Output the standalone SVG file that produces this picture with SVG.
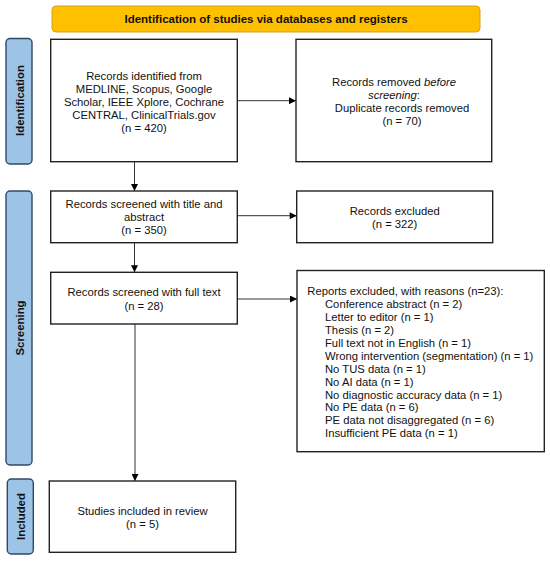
<svg xmlns="http://www.w3.org/2000/svg" width="550" height="561" viewBox="0 0 550 561">
<defs>
<marker id="ah" viewBox="0 0 10 10" refX="10" refY="5" markerWidth="7.5" markerHeight="7" markerUnits="userSpaceOnUse" orient="auto"><path d="M0,0 L10,5 L0,10 z" fill="#000"/></marker>
<style>
text{font-family:"Liberation Sans",Arial,sans-serif;font-size:11.25px;fill:#111}
.c{text-anchor:middle}
.b{stroke:#222;stroke-width:1.4;fill:#fff}
.side{fill:#9dc3e6;stroke:#2f4a66;stroke-width:1.4}
.sl{font-weight:bold;font-size:11.4px;text-anchor:middle}
.ln{stroke:#333;stroke-width:1;fill:none;marker-end:url(#ah)}
</style>
</defs>
<rect width="550" height="561" fill="#fff"/>
<g id="header">
<rect x="52" y="6" width="428" height="26" rx="4" fill="#ffc000" stroke="#d4a21c" stroke-width="1"/>
<text x="266" y="23" class="c" style="font-weight:bold;font-size:11.5px">Identification of studies via databases and registers</text>
</g>
<g id="side-identification">
<rect class="side" x="6" y="38.5" width="26" height="125.5" rx="4"/>
<text class="sl" transform="translate(23.5,100.5) rotate(-90)">Identification</text>
</g>
<g id="side-screening">
<rect class="side" x="6" y="191" width="26" height="274" rx="4"/>
<text class="sl" transform="translate(23.5,328) rotate(-90)">Screening</text>
</g>
<g id="side-included">
<rect class="side" x="7.3" y="479" width="26" height="75" rx="4"/>
<text class="sl" transform="translate(24.5,516.5) rotate(-90)">Included</text>
</g>
<g id="connectors">
<line class="ln" x1="237.3" y1="100.7" x2="296" y2="100.7"/>
<line class="ln" x1="134.5" y1="162" x2="134.5" y2="191"/>
<line class="ln" x1="237.3" y1="215.7" x2="296.7" y2="215.7"/>
<line class="ln" x1="134.5" y1="242.7" x2="134.5" y2="272.3"/>
<line class="ln" x1="237.3" y1="299" x2="297" y2="299"/>
<line class="ln" x1="135" y1="324" x2="135" y2="481"/>
</g>
<g id="n-identified">
<rect class="b" x="50.7" y="39.3" width="186.6" height="122.4"/>
<text class="c" x="144" y="80">Records identified from</text>
<text class="c" x="144" y="93">MEDLINE, Scopus, Google</text>
<text class="c" x="144" y="106">Scholar, IEEE Xplore, Cochrane</text>
<text class="c" x="144" y="119">CENTRAL, ClinicalTrials.gov</text>
<text class="c" x="144" y="132">(n = 420)</text>
</g>
<g id="n-removed">
<rect class="b" x="296" y="39.3" width="195.7" height="122.4"/>
<text class="c" x="394" y="86.3">Records removed <tspan font-style="italic">before</tspan></text>
<text class="c" x="394" y="99.3"><tspan font-style="italic">screening</tspan>:</text>
<text class="c" x="402" y="112.3">Duplicate records removed</text>
<text class="c" x="402" y="125.3">(n = 70)</text>
</g>
<g id="n-screened-ta">
<rect class="b" x="50.7" y="191" width="186.6" height="51.7"/>
<text class="c" x="144" y="208">Records screened with title and</text>
<text class="c" x="144" y="221">abstract</text>
<text class="c" x="144" y="234">(n = 350)</text>
</g>
<g id="n-excluded">
<rect class="b" x="296.7" y="191" width="196" height="51.7"/>
<text class="c" x="394.7" y="215">Records excluded</text>
<text class="c" x="394.7" y="228">(n = 322)</text>
</g>
<g id="n-screened-ft">
<rect class="b" x="50.7" y="272.3" width="186.6" height="51.7"/>
<text class="c" x="144" y="296">Records screened with full text</text>
<text class="c" x="144" y="310">(n = 28)</text>
</g>
<g id="n-reports-excluded">
<rect class="b" x="297" y="270.5" width="247.3" height="181.2"/>
<text x="307.3" y="295.3">Reports excluded, with reasons (n=23):</text>
<text x="325" y="308.2">Conference abstract (n = 2)</text>
<text x="325" y="321.1">Letter to editor (n = 1)</text>
<text x="325" y="334">Thesis (n = 2)</text>
<text x="325" y="346.9">Full text not in English (n = 1)</text>
<text x="325" y="359.8">Wrong intervention (segmentation) (n = 1)</text>
<text x="325" y="372.7">No TUS data (n = 1)</text>
<text x="325" y="385.6">No AI data (n = 1)</text>
<text x="325" y="398.5">No diagnostic accuracy data (n = 1)</text>
<text x="325" y="411.4">No PE data (n = 6)</text>
<text x="325" y="424.3">PE data not disaggregated (n = 6)</text>
<text x="325" y="437.2">Insufficient PE data (n = 1)</text>
</g>
<g id="n-included">
<rect class="b" x="49.3" y="481" width="186.4" height="71.3"/>
<text class="c" x="142.5" y="514.7">Studies included in review</text>
<text class="c" x="142.5" y="527.5">(n = 5)</text>
</g>
</svg>
